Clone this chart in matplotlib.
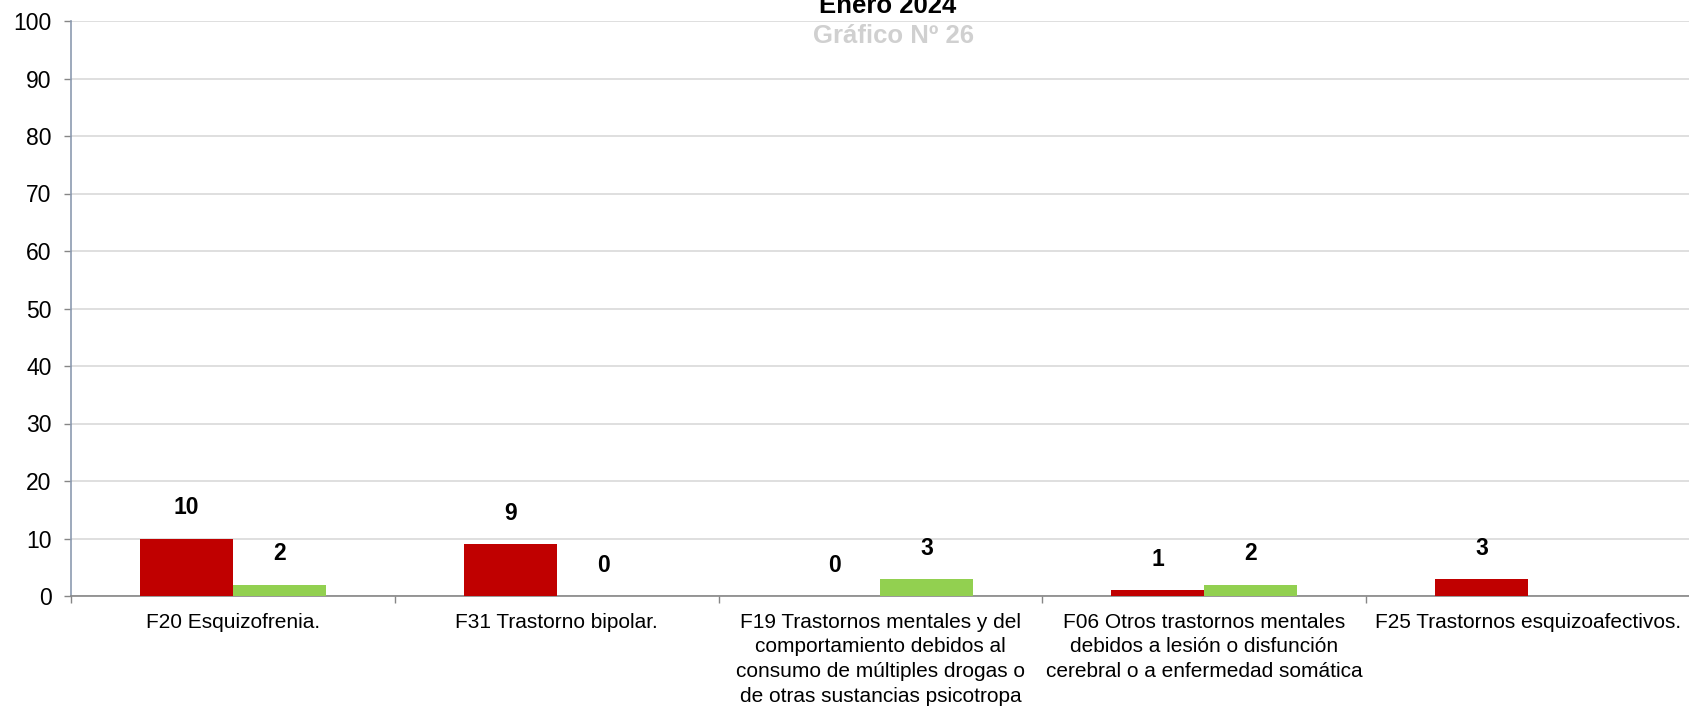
import matplotlib.pyplot as plt
import numpy as np

plt.rcParams['font.family'] = ['Liberation Sans', 'DejaVu Sans']

categories = [
    "F20 Esquizofrenia.",
    "F31 Trastorno bipolar.",
    "F19 Trastornos mentales y del\ncomportamiento debidos al\nconsumo de múltiples drogas o\nde otras sustancias psicotropa",
    "F06 Otros trastornos mentales\ndebidos a lesión o disfunción\ncerebral o a enfermedad somática",
    "F25 Trastornos esquizoafectivos.",
]
red_vals = [10, 9, 0, 1, 3]
green_vals = [2, 0, 3, 2, None]

W, H = 1690, 707
fig = plt.figure(figsize=(W / 100, H / 100), dpi=100)
ax = fig.add_axes([71 / W, 1 - 596 / H, 1 - 71 / W, (596 - 21) / H])

x = np.arange(len(categories))
bw = 0.287
red_c = "#C00000"
green_c = "#92D050"

ax.bar(x - bw / 2, red_vals, bw, color=red_c, zorder=3)
gv = [v if v is not None else 0 for v in green_vals]
ax.bar(x + bw / 2, gv, bw, color=green_c, zorder=3)

def label(xpos, v):
    ax.annotate(str(v), (xpos, v), xytext=(0, 22), textcoords="offset points",
                ha="center", va="center", fontsize=16.5, fontweight="bold", zorder=4)

for i in range(len(categories)):
    label(x[i] - bw / 2, red_vals[i])
    if green_vals[i] is not None:
        label(x[i] + bw / 2, green_vals[i])

ax.set_xlim(-0.5, len(categories) - 0.5)
ax.set_ylim(0, 100)
ax.set_yticks(range(0, 101, 10))
ax.yaxis.grid(True, color="#D9D9D9", linewidth=1.2, zorder=0)
ax.set_axisbelow(True)

ax.set_xticks(x)
ax.set_xticklabels(categories, fontsize=15, linespacing=1.38)
ax.set_xticks(np.arange(-0.5, len(categories)), minor=True)
ax.tick_params(axis="x", which="major", length=0, pad=12)
ax.tick_params(axis="x", which="minor", length=5, color="#868686", width=1)
ax.tick_params(axis="y", length=5, color="#868686", width=1, labelsize=16.5, pad=9)

for s in ["top", "right"]:
    ax.spines[s].set_visible(False)
ax.spines["left"].set_color("#8C9BB0")
ax.spines["bottom"].set_color("#868686")
for s in ["left", "bottom"]:
    ax.spines[s].set_linewidth(1.2)

fig.text(888 / W, 1 - 13 / H, "Enero 2024", ha="center", va="baseline",
         fontsize=18.5, fontweight="bold")
fig.text(894 / W, 1 - 43 / H, "Gráfico Nº 26", ha="center", va="baseline",
         fontsize=18.5, fontweight="bold", color="#D0D0D0")

fig.savefig("out.png", dpi=100)
